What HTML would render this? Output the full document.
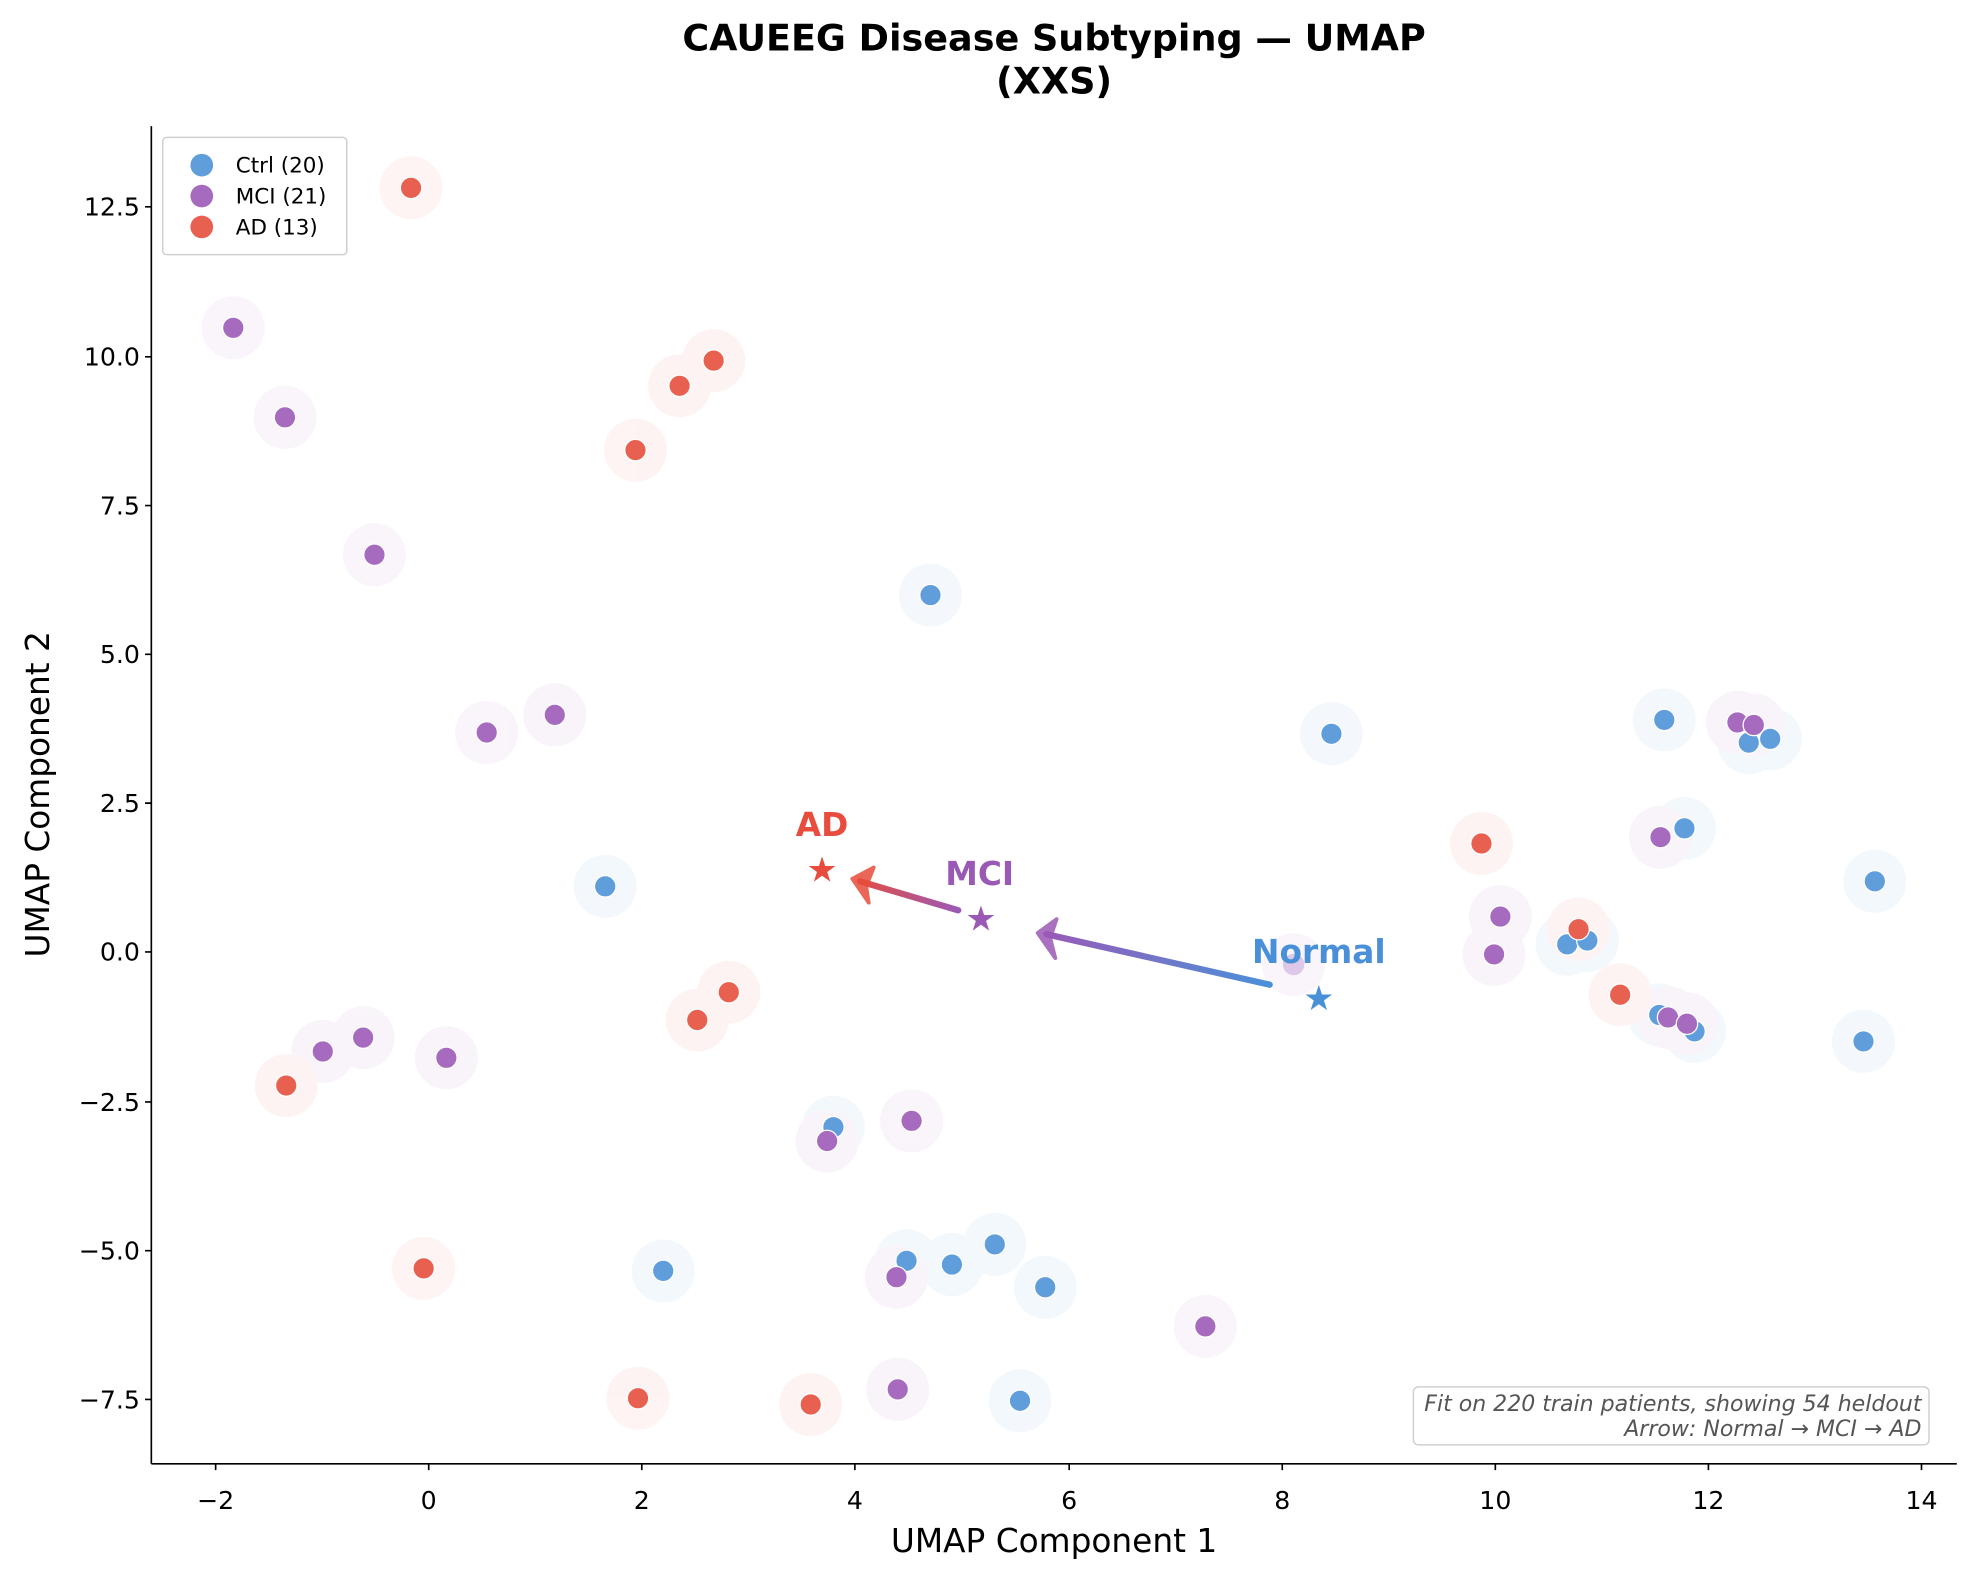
<!DOCTYPE html>
<html><head><meta charset="utf-8"><style>
html,body{margin:0;padding:0;background:#fff;}
svg{display:block;font-family:"DejaVu Sans","Liberation Sans",sans-serif;}
</style></head><body>
<svg width="1977" height="1577" viewBox="0 0 1568 1250.8" xmlns="http://www.w3.org/2000/svg">
<defs>
<linearGradient id="g1" gradientUnits="userSpaceOnUse" x1="1007" y1="781" x2="823" y2="740"><stop offset="0" stop-color="#4a90d9"/><stop offset="1" stop-color="#9b59b6"/></linearGradient>
<linearGradient id="g2" gradientUnits="userSpaceOnUse" x1="760" y1="722" x2="676" y2="697"><stop offset="0" stop-color="#9b59b6"/><stop offset="1" stop-color="#e74c3c"/></linearGradient>
</defs>
<rect width="1568" height="1250.8" fill="#fff"/>
<text x="836" y="40" font-size="29" font-weight="bold" text-anchor="middle">CAUEEG Disease Subtyping — UMAP</text>
<text x="836" y="74" font-size="29" font-weight="bold" text-anchor="middle">(XXS)</text>

<g id="halos" opacity="0.06">
<g fill="#4a90d9">
<circle cx="738" cy="472" r="25"/><circle cx="1056" cy="582" r="25"/><circle cx="480" cy="703" r="25"/><circle cx="1320" cy="571" r="25"/><circle cx="1387" cy="589" r="25"/><circle cx="1404" cy="586" r="25"/><circle cx="1336" cy="657" r="25"/><circle cx="1487" cy="699" r="25"/><circle cx="1243" cy="749" r="25"/><circle cx="1259" cy="746" r="25"/><circle cx="1316" cy="805" r="25"/><circle cx="1344" cy="818" r="25"/><circle cx="1478" cy="826" r="25"/><circle cx="661" cy="894" r="25"/><circle cx="719" cy="1000" r="25"/><circle cx="755" cy="1003" r="25"/><circle cx="789" cy="987" r="25"/><circle cx="829" cy="1021" r="25"/><circle cx="526" cy="1008" r="25"/><circle cx="809" cy="1111" r="25"/>
</g>
<g fill="#9b59b6">
<circle cx="185" cy="260" r="25"/><circle cx="226" cy="331" r="25"/><circle cx="297" cy="440" r="25"/><circle cx="386" cy="581" r="25"/><circle cx="440" cy="567" r="25"/><circle cx="1026" cy="765" r="25"/><circle cx="1317" cy="664" r="25"/><circle cx="1378" cy="573" r="25"/><circle cx="1391" cy="575" r="25"/><circle cx="1190" cy="727" r="25"/><circle cx="1185" cy="757" r="25"/><circle cx="1323" cy="807" r="25"/><circle cx="1338" cy="812" r="25"/><circle cx="256" cy="834" r="25"/><circle cx="288" cy="823" r="25"/><circle cx="354" cy="839" r="25"/><circle cx="656" cy="905" r="25"/><circle cx="723" cy="889" r="25"/><circle cx="711" cy="1013" r="25"/><circle cx="712" cy="1102" r="25"/><circle cx="956" cy="1052" r="25"/>
</g>
<g fill="#e74c3c">
<circle cx="326" cy="149" r="25"/><circle cx="566" cy="286" r="25"/><circle cx="539" cy="306" r="25"/><circle cx="504" cy="357" r="25"/><circle cx="1175" cy="669" r="25"/><circle cx="1252" cy="737" r="25"/><circle cx="1285" cy="789" r="25"/><circle cx="578" cy="787" r="25"/><circle cx="553" cy="809" r="25"/><circle cx="227" cy="861" r="25"/><circle cx="336" cy="1006" r="25"/><circle cx="506" cy="1109" r="25"/><circle cx="643" cy="1114" r="25"/>
</g>
</g>

<g stroke="#fff" stroke-width="1">
<g fill="#5f9ddb">
<circle cx="738" cy="472" r="8.5"/><circle cx="1056" cy="582" r="8.5"/><circle cx="480" cy="703" r="8.5"/><circle cx="1320" cy="571" r="8.5"/><circle cx="1387" cy="589" r="8.5"/><circle cx="1404" cy="586" r="8.5"/><circle cx="1336" cy="657" r="8.5"/><circle cx="1487" cy="699" r="8.5"/><circle cx="1243" cy="749" r="8.5"/><circle cx="1259" cy="746" r="8.5"/><circle cx="1316" cy="805" r="8.5"/><circle cx="1344" cy="818" r="8.5"/><circle cx="1478" cy="826" r="8.5"/><circle cx="661" cy="894" r="8.5"/><circle cx="719" cy="1000" r="8.5"/><circle cx="755" cy="1003" r="8.5"/><circle cx="789" cy="987" r="8.5"/><circle cx="829" cy="1021" r="8.5"/><circle cx="526" cy="1008" r="8.5"/><circle cx="809" cy="1111" r="8.5"/>
</g>
<g fill="#a66bbf">
<circle cx="185" cy="260" r="8.5"/><circle cx="226" cy="331" r="8.5"/><circle cx="297" cy="440" r="8.5"/><circle cx="386" cy="581" r="8.5"/><circle cx="440" cy="567" r="8.5"/><circle cx="1317" cy="664" r="8.5"/><circle cx="1378" cy="573" r="8.5"/><circle cx="1391" cy="575" r="8.5"/><circle cx="1190" cy="727" r="8.5"/><circle cx="1185" cy="757" r="8.5"/><circle cx="1323" cy="807" r="8.5"/><circle cx="1338" cy="812" r="8.5"/><circle cx="256" cy="834" r="8.5"/><circle cx="288" cy="823" r="8.5"/><circle cx="354" cy="839" r="8.5"/><circle cx="656" cy="905" r="8.5"/><circle cx="723" cy="889" r="8.5"/><circle cx="711" cy="1013" r="8.5"/><circle cx="712" cy="1102" r="8.5"/><circle cx="956" cy="1052" r="8.5"/>
</g>
<g fill="#e8604f">
<circle cx="326" cy="149" r="8.5"/><circle cx="566" cy="286" r="8.5"/><circle cx="539" cy="306" r="8.5"/><circle cx="504" cy="357" r="8.5"/><circle cx="1175" cy="669" r="8.5"/><circle cx="1252" cy="737" r="8.5"/><circle cx="1285" cy="789" r="8.5"/><circle cx="578" cy="787" r="8.5"/><circle cx="553" cy="809" r="8.5"/><circle cx="227" cy="861" r="8.5"/><circle cx="336" cy="1006" r="8.5"/><circle cx="506" cy="1109" r="8.5"/><circle cx="643" cy="1114" r="8.5"/>
</g>
</g>
<circle cx="1026" cy="765" r="8.5" fill="#ddc8e8"/>

<!-- arrows -->
<line x1="1007" y1="781" x2="830" y2="741" stroke="url(#g1)" stroke-width="5" stroke-linecap="round"/>
<polygon points="823,740 838,729 833,744 837,760" fill="#9b59b6" stroke="#9b59b6" stroke-width="3" stroke-linejoin="round" opacity="0.85"/>
<line x1="760" y1="722" x2="682" y2="699" stroke="url(#g2)" stroke-width="5" stroke-linecap="round"/>
<polygon points="676,697 693,688 687,703 689,716" fill="#e74c3c" stroke="#e74c3c" stroke-width="3" stroke-linejoin="round" opacity="0.85"/>

<!-- stars -->
<g font-size="30" text-anchor="middle" stroke="#fff" stroke-width="0.6">
<text x="652" y="700" fill="#e74c3c">★</text>
<text x="778" y="739" fill="#9b59b6">★</text>
<text x="1046" y="802" fill="#4a90d9">★</text>
</g>
<g font-size="26" font-weight="bold" text-anchor="middle">
<text x="652" y="663" fill="#e74c3c">AD</text>
<text x="777" y="702" fill="#9b59b6">MCI</text>
<text x="1046" y="764" fill="#4a90d9">Normal</text>
</g>

<!-- axes -->
<g stroke="#000" stroke-width="1.3" fill="none">
<line x1="120" y1="100" x2="120" y2="1161"/>
<line x1="120" y1="1161" x2="1552" y2="1161"/>
<path d="M115,164H120M115,283H120M115,401H120M115,519H120M115,637H120M115,755H120M115,874H120M115,992H120M115,1110H120"/>
<path d="M171,1161V1166M340,1161V1166M509,1161V1166M678,1161V1166M848,1161V1166M1017,1161V1166M1186,1161V1166M1355,1161V1166M1524,1161V1166"/>
</g>
<g font-size="20" text-anchor="end">
<text x="111" y="171">12.5</text><text x="111" y="290">10.0</text><text x="111" y="408">7.5</text><text x="111" y="526">5.0</text><text x="111" y="644">2.5</text><text x="111" y="762">0.0</text><text x="111" y="881">−2.5</text><text x="111" y="999">−5.0</text><text x="111" y="1117">−7.5</text>
</g>
<g font-size="20" text-anchor="middle">
<text x="171" y="1197">−2</text><text x="340" y="1197">0</text><text x="509" y="1197">2</text><text x="678" y="1197">4</text><text x="848" y="1197">6</text><text x="1017" y="1197">8</text><text x="1186" y="1197">10</text><text x="1355" y="1197">12</text><text x="1524" y="1197">14</text>
</g>
<text x="836" y="1231" font-size="26" text-anchor="middle">UMAP Component 1</text>
<text transform="translate(39,630) rotate(-90)" font-size="26" text-anchor="middle">UMAP Component 2</text>

<!-- legend -->
<rect x="129" y="109" width="146" height="93" rx="3" fill="#fff" fill-opacity="0.9" stroke="#d0d0d0" stroke-width="1.2"/>
<circle cx="160" cy="131" r="9" fill="#5f9ddb"/>
<circle cx="160" cy="155.5" r="9" fill="#a66bbf"/>
<circle cx="160" cy="180" r="9" fill="#e8604f"/>
<g font-size="17"><text x="187" y="137">Ctrl (20)</text><text x="187" y="161.5">MCI (21)</text><text x="187" y="186">AD (13)</text></g>

<!-- annotation -->
<rect x="1121" y="1100" width="409" height="46" rx="4" fill="#fff" stroke="#d0d0d0" stroke-width="1.2"/>
<g font-size="17.5" font-style="italic" fill="#555" text-anchor="end">
<text x="1524" y="1119">Fit on 220 train patients, showing 54 heldout</text>
<text x="1524" y="1139">Arrow: Normal → MCI → AD</text>
</g>
</svg>
</body></html>
